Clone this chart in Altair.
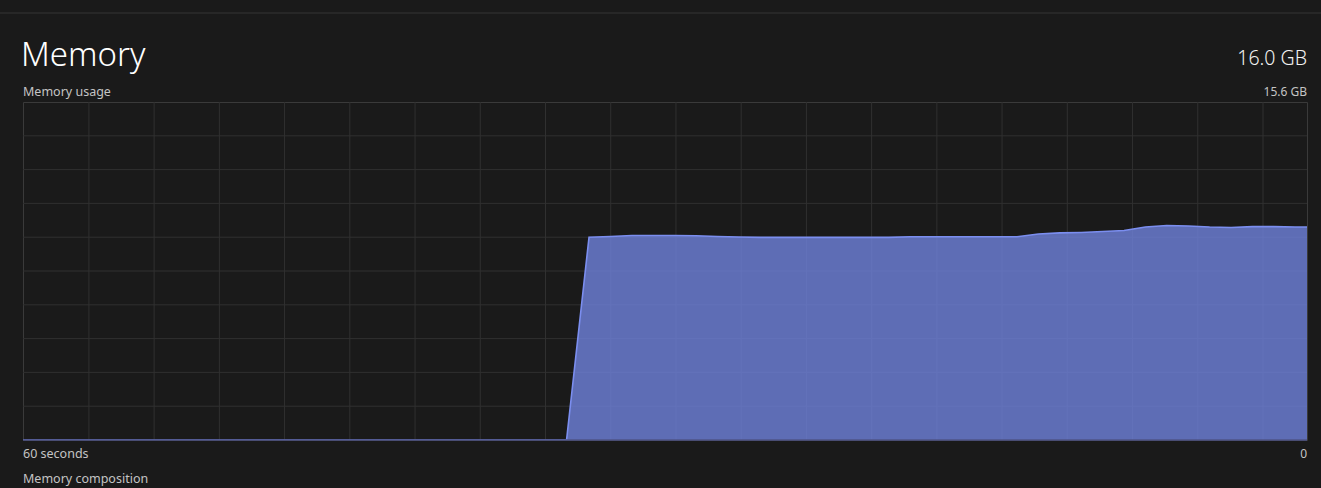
import altair as alt
import pandas as pd

# ---- data ----
seconds_ago = [60, 34.6,
               33.55, 32.55, 31.55, 30.55, 29.55, 28.55, 27.55, 26.55, 25.55, 24.55,
               23.55, 22.55, 21.55, 20.55, 19.55, 18.55, 17.55, 16.55, 15.55, 14.55,
               13.55, 12.55, 11.55, 10.55, 9.55, 8.55, 7.55, 6.55, 5.55, 4.55,
               3.55, 2.55, 1.55, 0.55, 0]
memory_gb = [0, 0,
             9.36, 9.39, 9.44, 9.44, 9.44, 9.43, 9.39, 9.37, 9.35, 9.35,
             9.35, 9.35, 9.35, 9.35, 9.35, 9.38, 9.38, 9.38, 9.38, 9.38,
             9.38, 9.51, 9.56, 9.58, 9.62, 9.67, 9.83, 9.90, 9.88, 9.83,
             9.81, 9.85, 9.85, 9.83, 9.83]
max_gb = 15.6
grid_rows = [round(i * max_gb / 10, 3) for i in range(1, 10)]
grid_cols = [round(56.92 - 3.048 * k, 3) for k in range(19)]

df = pd.DataFrame({"ago": seconds_ago, "gb": memory_gb})
rows_df = pd.DataFrame({"gb": grid_rows})
cols_df = pd.DataFrame({"ago": grid_cols})

W, H = 1284, 338
BG = "#1a1a1a"
FONT = "Noto Sans"
GRID = "#303030"

x_scale = alt.Scale(domain=[60, 0], nice=False, zero=False)
y_scale = alt.Scale(domain=[0, max_gb], nice=False)

hgrid = alt.Chart(rows_df).mark_rule(color=GRID, strokeWidth=1).encode(
    y=alt.Y("gb:Q", scale=y_scale, axis=None)
)
vgrid = alt.Chart(cols_df).mark_rule(color=GRID, strokeWidth=1).encode(
    x=alt.X("ago:Q", scale=x_scale, axis=None)
)

area = alt.Chart(df).mark_area(color="#6e80d8", opacity=0.82, clip=True).encode(
    x=alt.X("ago:Q", scale=x_scale, axis=None),
    y=alt.Y("gb:Q", scale=y_scale, axis=None),
)
line = alt.Chart(df).mark_line(color="#7b8eef", strokeWidth=1.6, clip=True).encode(
    x=alt.X("ago:Q", scale=x_scale, axis=None),
    y=alt.Y("gb:Q", scale=y_scale, axis=None),
)

one = alt.Data(values=[{"a": 1}])

def label(txt, x, y, size, color, align="left", weight="normal"):
    return alt.Chart(one).mark_text(
        text=txt, align=align, baseline="alphabetic", fontSize=size,
        font=FONT, color=color, fontWeight=weight,
    ).encode(x=alt.value(x), y=alt.value(y))

sep = alt.Chart(one).mark_rule(color="#2c2c2c", strokeWidth=1.5).encode(
    x=alt.value(-23), x2=alt.value(W + 14), y=alt.value(-89)
)
bottom = alt.Chart(one).mark_rule(color="#4f5488", strokeWidth=1.5).encode(
    x=alt.value(0), x2=alt.value(W), y=alt.value(H)
)

texts = [
    label("Memory", -2, -36, 33, "#ffffff", weight=300),
    label("16.0 GB", W, -37, 19.5, "#f2f2f2", align="right", weight=300),
    label("Memory usage", 0, -6, 12.5, "#c4c4c4"),
    label("15.6 GB", W, -6, 12, "#c4c4c4", align="right"),
    label("60 seconds", 0, 356, 12.5, "#c4c4c4"),
    label("0", W, 356, 12, "#c4c4c4", align="right"),
    label("Memory composition", 0, 381, 12.5, "#c4c4c4"),
]

chart = alt.layer(hgrid, vgrid, area, line, bottom, sep, *texts).properties(
    width=W, height=H,
    padding={"left": 23, "top": 102, "right": 14, "bottom": 48},
    autosize=alt.AutoSizeParams(type="none"),
    background=BG,
).configure_view(stroke="#3a3a3a", strokeWidth=1)

chart.save("out.html", embed_options={"renderer": "svg", "actions": False})
